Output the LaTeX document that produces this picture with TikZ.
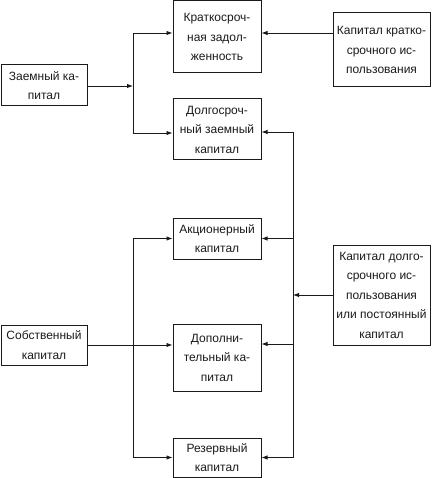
\documentclass[tikz,border=0pt]{standalone}
\usepackage{fontspec}
\setmainfont{Liberation Sans}
\usetikzlibrary{arrows.meta, calc}
\definecolor{Ink}{HTML}{1A1A1A}

\begin{document}
\begin{tikzpicture}[x=1pt, y=-1pt, font=\fontsize{12}{19.5}\selectfont, Ink,
  box/.style={draw=Ink, line width=1pt, align=center, inner sep=0pt},
  arr/.style={-{Latex[length=6pt, width=4.5pt]}, line width=0.9pt},
  bus/.style={line width=0.9pt}]
  \useasboundingbox (0,0) rectangle (433,478);
  % Boxes: left sources, middle column, right groups
  \node[box, minimum width=86pt, minimum height=41pt]  (loan)     at (44,85.5)    {Заемный ка-\\питал};
  \node[box, minimum width=86pt, minimum height=40pt]  (own)      at (44,345)     {Собственный\\капитал};
  \node[box, minimum width=88pt, minimum height=72pt]  (short)    at (217,37)     {Краткосроч-\\ная задол-\\женность};
  \node[box, minimum width=88pt, minimum height=61pt]  (longloan) at (217,129.5)  {Долгосроч-\\ный заемный\\капитал};
  \node[box, minimum width=88pt, minimum height=41pt]  (stock)    at (217,238.5)  {Акционерный\\капитал};
  \node[box, minimum width=88pt, minimum height=67pt]  (extra)    at (217,357.5)  {Дополни-\\тельный ка-\\питал};
  \node[box, minimum width=88pt, minimum height=39pt]  (reserve)  at (217,457.5)  {Резервный\\капитал};
  \node[box, minimum width=97pt, minimum height=74pt]  (shortuse) at (381.5,50)   {Капитал кратко-\\срочного ис-\\пользования};
  \node[box, minimum width=97pt, minimum height=100pt] (longuse)  at (381.5,295)  {Капитал долго-\\срочного ис-\\пользования\\или постоянный\\капитал};
  % Bus points
  \coordinate (lsplit) at (133,86);
  \coordinate (ltop)   at (133,238.5);
  \coordinate (lbot)   at (133,457.5);
  \coordinate (rtop)   at (293,132);
  \coordinate (rbot)   at (293,457.5);
  % Borrowed capital
  \draw[arr] (loan.east |- lsplit) -- (lsplit);
  \draw[arr] (lsplit) |- ([yshift=4pt]short.west);
  \draw[arr] (lsplit) |- ([yshift=-3.5pt]longloan.west);
  \draw[arr] ([yshift=17pt]shortuse.west) -- ([yshift=4pt]short.east);
  % Own capital
  \draw[bus] (ltop) -- (lbot);
  \draw[arr] (ltop) -- (stock.west);
  \draw[arr] (own.east) -- (own.east -| extra.west);
  \draw[arr] (lbot) -- (reserve.west);
  % Long-term use
  \draw[bus] (rtop) -- (rbot);
  \draw[arr] (longuse.west) -- (longuse.west -| rtop);
  \draw[arr] (rtop) -- (rtop -| longloan.east);
  \draw[arr] (stock.east -| rtop) -- (stock.east);
  \draw[arr] ([yshift=13.5pt]extra.east -| rtop) -- ([yshift=13.5pt]extra.east);
  \draw[arr] (rbot) -- (reserve.east);
\end{tikzpicture}
\end{document}
